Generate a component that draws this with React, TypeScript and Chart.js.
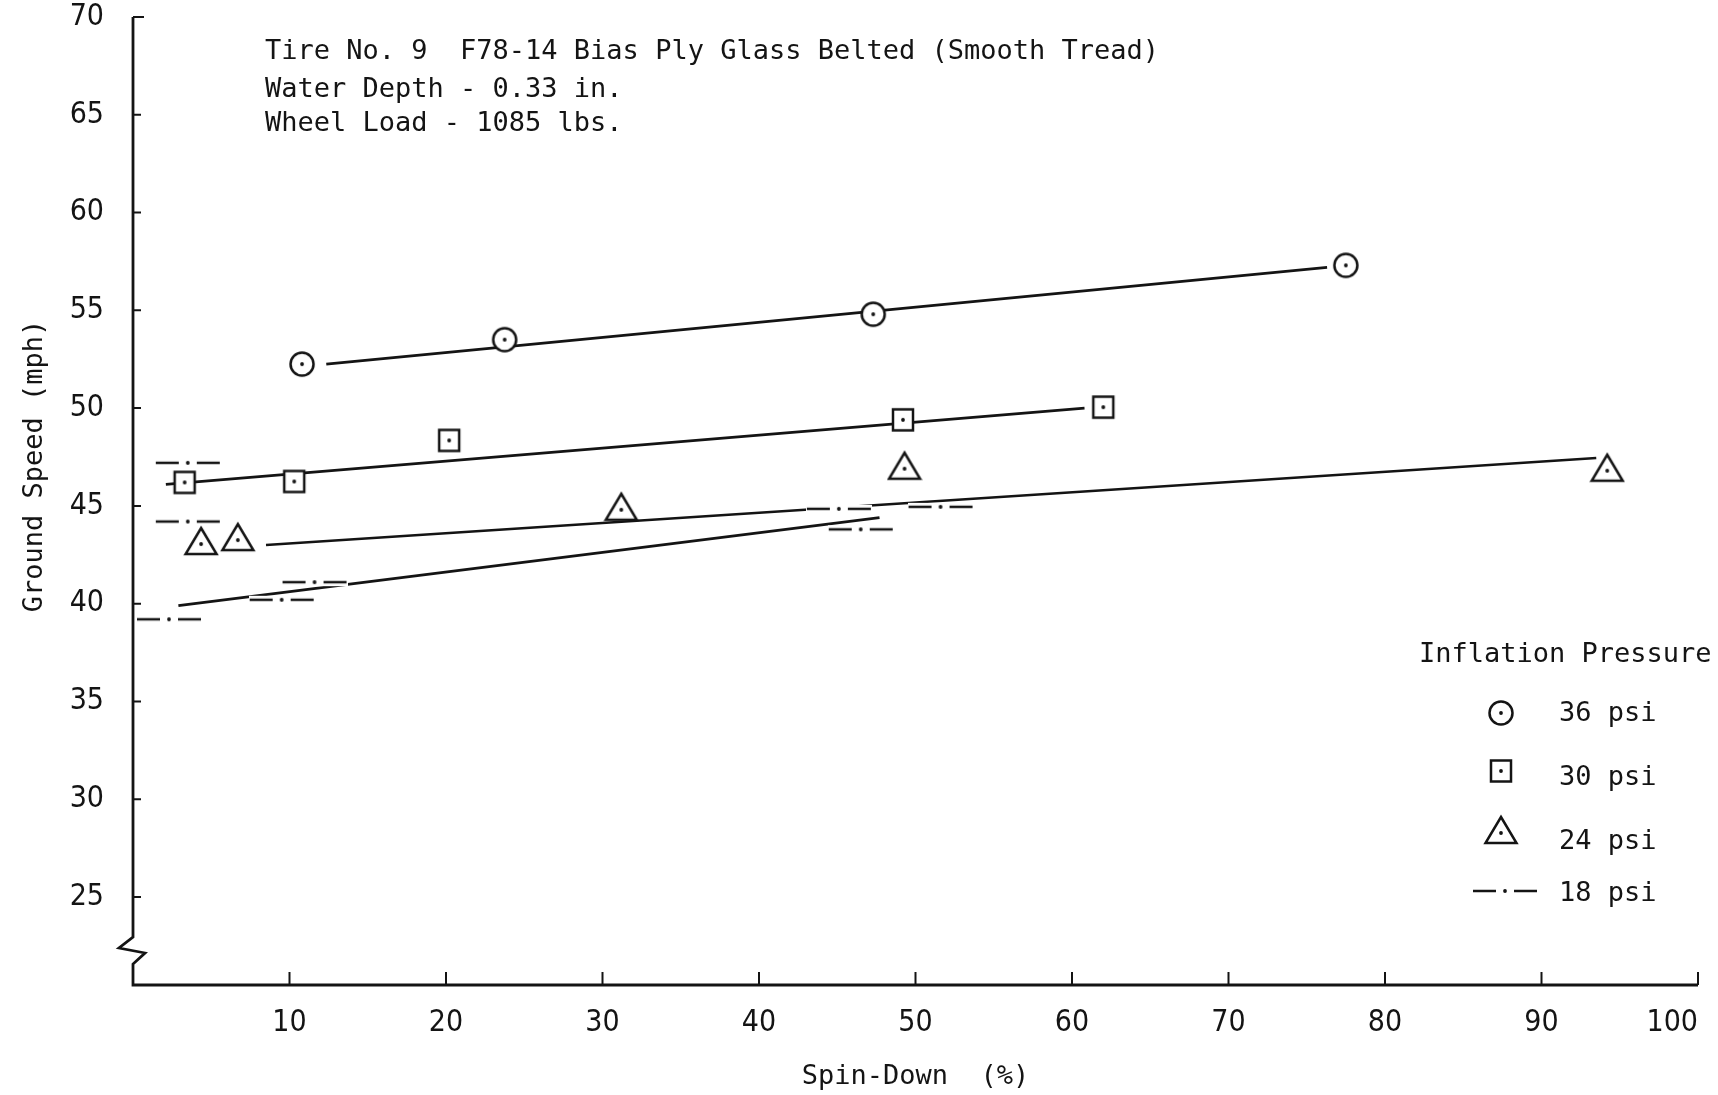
import { useEffect, useRef } from 'react';
import { Chart, registerables } from 'chart.js';

Chart.register(...registerables);

const INK = '#141414';
const MONO_FAMILY = "'DejaVu Sans Mono', 'Liberation Mono', monospace";
const TEXT_FONT = `27px ${MONO_FAMILY}`;
const TICK_FAMILY = "'DejaVu Sans Condensed', 'DejaVu Sans', 'Liberation Sans', sans-serif";

// Labels
const pressureLabels = ['36 psi', '30 psi', '24 psi', '18 psi'];
const legendTitle = 'Inflation Pressure';
const noteLines = [
  'Tire No. 9  F78-14 Bias Ply Glass Belted (Smooth Tread)',
  'Water Depth - 0.33 in.',
  'Wheel Load - 1085 lbs.',
];
const xTitle = 'Spin-Down  (%)';
const yTitle = 'Ground Speed (mph)';
const xTickValues = [10, 20, 30, 40, 50, 60, 70, 80, 90, 100];
const yTickValues = [25, 30, 35, 40, 45, 50, 55, 60, 65, 70];

// Measured points: spin-down (%) vs ground speed (mph)
const spin36 = [10.8, 23.75, 47.3, 77.5];
const speed36 = [52.25, 53.5, 54.8, 57.3];
const spin30 = [3.3, 10.3, 20.2, 49.2, 62.0];
const speed30 = [46.2, 46.25, 48.35, 49.4, 50.05];
const spin24 = [4.35, 6.7, 31.2, 49.3, 94.2];
const speed24 = [43.05, 43.25, 44.8, 46.9, 46.8];
const spin18 = [2.3, 3.5, 3.5, 9.5, 11.6, 45.1, 46.5, 51.6];
const speed18 = [39.2, 44.2, 47.2, 40.2, 41.1, 44.85, 43.8, 44.95];

// Faired lines (end points)
const fairSpin36 = [12.35, 76.3];
const fairSpeed36 = [52.25, 57.2];
const fairSpin30 = [2.1, 60.8];
const fairSpeed30 = [46.1, 50.0];
const fairSpin24 = [8.5, 93.5];
const fairSpeed24 = [43.0, 47.45];
const fairSpin18 = [2.9, 47.7];
const fairSpeed18 = [39.9, 44.4];

const Y_MIN = 20.5;
const Y_MAX = 70;

function pairs(xs: number[], ys: number[]) {
  return xs.map((x, i) => ({ x, y: ys[i] }));
}

function makeCanvas(w: number, h: number) {
  const c = document.createElement('canvas');
  c.width = w;
  c.height = h;
  return c;
}

function centerDot(g: CanvasRenderingContext2D, x: number, y: number) {
  g.beginPath();
  g.arc(x, y, 1.9, 0, Math.PI * 2);
  g.fillStyle = INK;
  g.fill();
}

function circleMarker() {
  const c = makeCanvas(30, 30);
  const g = c.getContext('2d')!;
  g.beginPath();
  g.arc(15, 15, 11.5, 0, Math.PI * 2);
  g.fillStyle = '#fff';
  g.fill();
  g.lineWidth = 2.5;
  g.strokeStyle = INK;
  g.stroke();
  centerDot(g, 15, 15);
  return c;
}

function squareMarker() {
  const c = makeCanvas(28, 28);
  const g = c.getContext('2d')!;
  g.fillStyle = '#fff';
  g.fillRect(4, 3.5, 20, 21);
  g.lineWidth = 2.5;
  g.strokeStyle = INK;
  g.strokeRect(4, 3.5, 20, 21);
  centerDot(g, 14, 14);
  return c;
}

function triangleMarker() {
  const c = makeCanvas(36, 38);
  const g = c.getContext('2d')!;
  g.beginPath();
  g.moveTo(18, 3);
  g.lineTo(33.5, 29);
  g.lineTo(2.5, 29);
  g.closePath();
  g.fillStyle = '#fff';
  g.fill();
  g.lineWidth = 2.5;
  g.lineJoin = 'miter';
  g.strokeStyle = INK;
  g.stroke();
  centerDot(g, 18, 19);
  return c;
}

function dashDotMarker() {
  const c = makeCanvas(66, 10);
  const g = c.getContext('2d')!;
  g.fillStyle = '#fff';
  g.fillRect(0, 1, 66, 8);
  g.strokeStyle = INK;
  g.lineWidth = 2.6;
  g.beginPath();
  g.moveTo(1, 5);
  g.lineTo(24, 5);
  g.moveTo(42, 5);
  g.lineTo(65, 5);
  g.stroke();
  centerDot(g, 33, 5);
  return c;
}

export default function App() {
  const ref = useRef<HTMLCanvasElement>(null);

  useEffect(() => {
    document.body.style.margin = '0';
    document.body.style.overflow = 'hidden';
    const canvas = ref.current;
    if (!canvas) return;

    const markers = [circleMarker(), squareMarker(), triangleMarker(), dashDotMarker()];
    const pointSets = [
      pairs(spin36, speed36),
      pairs(spin30, speed30),
      pairs(spin24, speed24),
      pairs(spin18, speed18),
    ];
    const fairSets = [
      pairs(fairSpin36, fairSpeed36),
      pairs(fairSpin30, fairSpeed30),
      pairs(fairSpin24, fairSpeed24),
      pairs(fairSpin18, fairSpeed18),
    ];

    const datasets: any[] = [
      ...pointSets.map((data, i) => ({
        label: pressureLabels[i],
        data,
        pointStyle: markers[i],
        pointRadius: 10,
        showLine: false,
        order: 0,
      })),
      ...fairSets.map((data, i) => ({
        label: pressureLabels[i] + ' faired',
        data,
        showLine: true,
        pointRadius: 0,
        borderColor: INK,
        borderWidth: 2.7,
        tension: 0,
        fill: false,
        order: 1,
      })),
    ];

    // Axis lines with inward ticks and the broken-scale zigzag
    const framePlugin = {
      id: 'frame',
      beforeDatasetsDraw(chart: any) {
        const { ctx, scales } = chart;
        const xs = scales.x;
        const ys = scales.y;
        const ax = xs.getPixelForValue(0);
        const base = ys.getPixelForValue(Y_MIN);
        const top = ys.getPixelForValue(Y_MAX);
        const right = xs.getPixelForValue(100);
        const zz = ys.getPixelForValue(25) + 40;
        ctx.save();
        ctx.strokeStyle = INK;
        ctx.lineWidth = 2.8;
        ctx.lineJoin = 'miter';
        ctx.beginPath();
        ctx.moveTo(ax, top);
        ctx.lineTo(ax, zz);
        ctx.lineTo(ax - 14, zz + 11);
        ctx.lineTo(ax + 12, zz + 16);
        ctx.lineTo(ax, zz + 27);
        ctx.lineTo(ax, base);
        ctx.lineTo(right, base);
        ctx.stroke();
        ctx.lineWidth = 2;
        ctx.beginPath();
        yTickValues.forEach((v) => {
          const py = ys.getPixelForValue(v);
          ctx.moveTo(ax, py);
          ctx.lineTo(ax + (v === Y_MAX ? 11 : 8), py);
        });
        xTickValues.forEach((v) => {
          const px = xs.getPixelForValue(v);
          ctx.moveTo(px, base);
          ctx.lineTo(px, base - 13);
        });
        ctx.stroke();
        ctx.restore();
      },
    };

    // Notes, vertical axis title and the pressure key
    const textPlugin = {
      id: 'texts',
      afterDraw(chart: any) {
        const { ctx, chartArea } = chart;
        ctx.save();
        ctx.font = TEXT_FONT;
        ctx.fillStyle = INK;
        ctx.textBaseline = 'middle';
        ctx.textAlign = 'left';

        const noteX = chartArea.left + 132;
        const noteY = [chartArea.top + 35, chartArea.top + 73, chartArea.top + 107];
        noteLines.forEach((t, i) => ctx.fillText(t, noteX, noteY[i]));

        ctx.save();
        ctx.translate(35, chartArea.top + 449);
        ctx.rotate(-Math.PI / 2);
        ctx.textAlign = 'center';
        ctx.fillText(yTitle, 0, 0);
        ctx.restore();

        const keyLeft = chartArea.right - 279;
        ctx.fillText(legendTitle, keyLeft, chartArea.top + 638);
        const symX = keyLeft + 82;
        const labelX = keyLeft + 140;
        const symY = [696, 754, 816, 874];
        const labelY = [697, 761, 825, 877];
        pressureLabels.forEach((lab, i) => {
          const m = markers[i];
          const sy = chartArea.top + symY[i];
          ctx.drawImage(m, symX - m.width / 2 + (i === 3 ? 4 : 0), sy - m.height / 2);
          ctx.fillText(lab, labelX, chartArea.top + labelY[i]);
        });
        ctx.restore();
      },
    };

    const tickFont = { family: TICK_FAMILY, size: 30 };

    const chart = new Chart(canvas, {
      type: 'scatter',
      data: { datasets },
      options: {
        animation: false,
        responsive: false,
        events: [],
        layout: { padding: { top: 17, right: 20, left: 0, bottom: 0 } },
        plugins: {
          legend: { display: false },
          tooltip: { enabled: false },
        },
        scales: {
          x: {
            type: 'linear',
            min: 0,
            max: 100,
            grid: { display: false, drawTicks: false },
            border: { display: false },
            afterBuildTicks: (s: any) => {
              // the origin carries no label; it only anchors the 'inner' alignment
              s.ticks = [0, ...xTickValues].map((value) => ({ value }));
            },
            afterFit: (s: any) => {
              s.height = 110;
              s.paddingLeft = 0;
              s.paddingRight = 0;
            },
            ticks: {
              padding: 20,
              color: INK,
              maxRotation: 0,
              autoSkip: false,
              align: 'inner',
              font: tickFont,
              callback: (v: any) => (Number(v) === 0 ? '' : String(v)),
            },
            title: {
              display: true,
              text: xTitle,
              color: INK,
              font: { family: MONO_FAMILY, size: 27 },
              padding: { top: 0, bottom: 2 },
            },
          },
          y: {
            type: 'linear',
            min: Y_MIN,
            max: Y_MAX,
            grid: { display: false, drawTicks: false },
            border: { display: false },
            afterBuildTicks: (s: any) => {
              s.ticks = yTickValues.map((value) => ({ value }));
            },
            afterFit: (s: any) => {
              s.width = 133;
              s.paddingTop = 0;
              s.paddingBottom = 0;
            },
            ticks: {
              padding: 29,
              color: INK,
              font: tickFont,
            },
          },
        },
      } as any,
      plugins: [framePlugin, textPlugin],
    });

    return () => chart.destroy();
  }, []);

  return (
    <div style={{ width: 1718, height: 1095, background: '#fff' }}>
      <canvas ref={ref} width={1718} height={1095} style={{ display: 'block' }} />
    </div>
  );
}
